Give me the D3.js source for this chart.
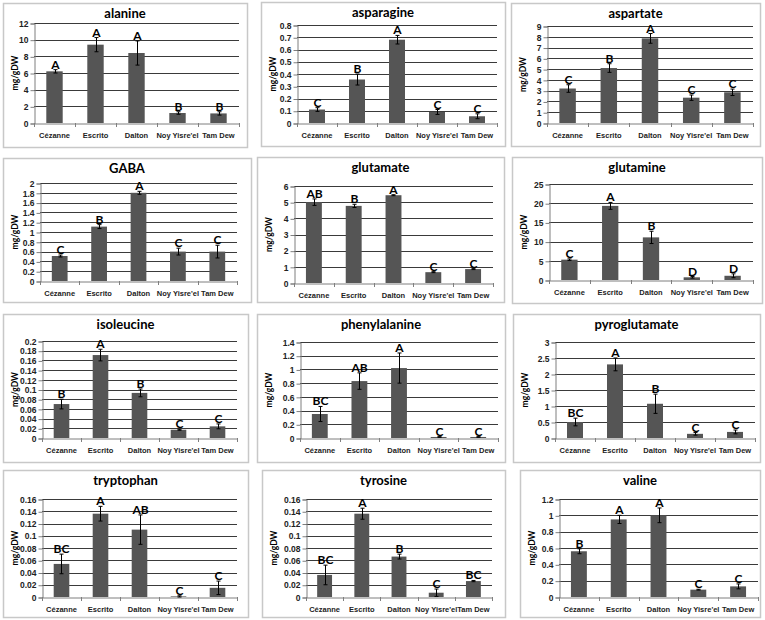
<!DOCTYPE html>
<html><head><meta charset="utf-8">
<script src="https://cdn.jsdelivr.net/npm/d3@7"></script>
<style>
body{margin:0;background:#fff;}
svg{display:block;font-family:Lato,"Open Sans",sans-serif;}
</style></head>
<body><svg id="c" width="765" height="620"></svg>
<script>
const categories = ["Cézanne","Escrito","Dalton","Noy Yisre'el","Tam Dew"];
const titles = ["alanine","asparagine","aspartate","GABA","glutamate","glutamine","isoleucine","phenylalanine","pyroglutamate","tryptophan","tyrosine","valine"];
const yMax = [12,0.8,9,2,6,25,0.2,1.4,3,0.16,0.16,1.2];
const yStep = [2,0.1,1,0.2,1,5,0.02,0.2,0.5,0.02,0.02,0.2];
const alanine = [6.2,9.4,8.4,1.2,1.15];
const alanineErr = [0.2,0.85,1.45,0.15,0.2];
const asparagine = [0.11,0.355,0.68,0.09,0.055];
const asparagineErr = [0.015,0.045,0.035,0.02,0.02];
const aspartate = [3.2,5.1,7.85,2.35,2.85];
const aspartateErr = [0.35,0.4,0.45,0.25,0.3];
const gaba = [0.51,1.11,1.8,0.6,0.6];
const gabaErr = [0.02,0.04,0.03,0.07,0.13];
const glutamate = [5.0,4.77,5.43,0.67,0.86];
const glutamateErr = [0.2,0.1,0.03,0.03,0.03];
const glutamine = [5.3,19.3,11.1,0.7,1.1];
const glutamineErr = [0.2,0.9,1.6,0.2,0.5];
const isoleucine = [0.07,0.171,0.093,0.017,0.024];
const isoleucineErr = [0.01,0.012,0.008,0.001,0.005];
const phenylalanine = [0.35,0.83,1.02,0.015,0.015];
const phenylalanineErr = [0.11,0.12,0.22,0.005,0.005];
const pyroglutamate = [0.5,2.3,1.07,0.13,0.19];
const pyroglutamateErr = [0.12,0.2,0.3,0.04,0.06];
const tryptophan = [0.054,0.136,0.11,0.001,0.015];
const tryptophanErr = [0.016,0.012,0.024,0.001,0.011];
const tyrosine = [0.036,0.136,0.066,0.007,0.026];
const tyrosineErr = [0.016,0.009,0.004,0.006,0.001];
const valine = [0.56,0.95,1.0,0.09,0.13];
const valineErr = [0.03,0.05,0.09,0.005,0.03];
const alaLetters = ["A","A","A","B","B"];
const asnLetters = ["C","B","A","C","C"];
const aspLetters = ["C","B","A","C","C"];
const gabaLetters = ["C","B","A","C","C"];
const gluLetters = ["AB","B","A","C","C"];
const glnLetters = ["C","A","B","D","D"];
const ileLetters = ["B","A","B","C","C"];
const pheLetters = ["BC","AB","A","C","C"];
const pyrLetters = ["BC","A","B","C","C"];
const trpLetters = ["BC","A","AB","C","C"];
const tyrLetters = ["BC","A","B","C","BC"];
const valLetters = ["B","A","A","C","C"];

const values = [alanine,asparagine,aspartate,gaba,glutamate,glutamine,isoleucine,phenylalanine,pyroglutamate,tryptophan,tyrosine,valine];
const errors = [alanineErr,asparagineErr,aspartateErr,gabaErr,glutamateErr,glutamineErr,isoleucineErr,phenylalanineErr,pyroglutamateErr,tryptophanErr,tyrosineErr,valineErr];
const letters = [alaLetters,asnLetters,aspLetters,gabaLetters,gluLetters,glnLetters,ileLetters,pheLetters,pyrLetters,trpLetters,tyrLetters,valLetters];

// layout: frame [x,y,w,h], plot [left,right,top,bottom]
const frames = [[3,3,244,144],[261,2,244,144],[511,3,249,143],
  [3,158,248,144],[257,157,247,145],[512,157,250,146],
  [3,314,245,148],[257,314,248,148],[513,314,247,148],
  [3,470,245,147],[262,470,243,147],[520,470,240,147]];
const plots = [[34,239,23,123],[297,497,25,123],[547,753,26,123],
  [40,237,183,281],[294,493,186,283],[549,753,184,280],
  [42,237,341,438],[300,498,342,438],[555,755,342,438],
  [42,237,499,597],[306,492,499,597],[559,758,499,597]];

const svg = d3.select("#c");
const barColor = "#555555";

titles.forEach((t,i)=>{
  const [fx,fy,fw,fh] = frames[i];
  const [pl,pr,pt,pb] = plots[i];
  const g = svg.append("g");
  g.append("rect").attr("x",fx+0.5).attr("y",fy+0.5).attr("width",fw).attr("height",fh)
    .attr("fill","#fff").attr("stroke","#c8c8c8").attr("stroke-width",1.5);
  const x = d3.scaleBand().domain(categories).range([pl,pr]).paddingInner(0.6).paddingOuter(0.3);
  const xb = d3.scaleBand().domain(categories).range([pl,pr]);
  const y = d3.scaleLinear().domain([0,yMax[i]]).range([pb,pt]);
  const ticks = d3.range(0, yMax[i]+yStep[i]/2, yStep[i]).map(v=>+v.toFixed(4));
  // gridlines
  g.selectAll(".grid").data(ticks.filter(v=>v>0)).join("line")
    .attr("x1",pl).attr("x2",pr).attr("y1",d=>Math.round(y(d))+0.5).attr("y2",d=>Math.round(y(d))+0.5)
    .attr("stroke","#3a3a3a").attr("stroke-width",1);
  // y axis
  const ya = d3.axisLeft(y).tickValues(ticks).tickSize(4).tickFormat(d=>d3.format("~g")(d));
  const yg = g.append("g").attr("transform",`translate(${pl+0.5},0.5)`).call(ya);
  yg.select(".domain").attr("stroke","#7f7f7f");
  yg.selectAll(".tick line").attr("stroke","#7f7f7f");
  yg.selectAll("text").attr("font-size",8.5).attr("font-weight","bold").attr("fill","#222").attr("x",-6);
  // x axis
  const xa = d3.axisBottom(xb).tickSize(0).tickFormat(d=>d);
  const xg = g.append("g").attr("transform",`translate(0,${pb+0.5})`).call(xa);
  xg.select(".domain").attr("stroke","#7f7f7f");
  xg.selectAll("text").attr("font-size",7.5).attr("font-weight","bold").attr("fill","#222").attr("dy","1.5em");
  const bounds = categories.map(c=>xb(c)).concat([pr]);
  g.selectAll(".xt").data(bounds).join("line")
    .attr("x1",d=>Math.round(d)+0.5).attr("x2",d=>Math.round(d)+0.5).attr("y1",pb).attr("y2",pb+4)
    .attr("stroke","#7f7f7f");
  // bars
  const vals = values[i], errs = errors[i], lets = letters[i];
  g.selectAll(".bar").data(categories).join("rect")
    .attr("x",c=>x(c)).attr("width",x.bandwidth())
    .attr("y",(c,j)=>y(vals[j])).attr("height",(c,j)=>pb-y(vals[j]))
    .attr("fill",barColor);
  // error bars
  categories.forEach((c,j)=>{
    const cx = Math.round(x(c)+x.bandwidth()/2)+0.5;
    const y1 = y(vals[j]+errs[j]), y0 = y(Math.max(0,vals[j]-errs[j]));
    g.append("line").attr("x1",cx).attr("x2",cx).attr("y1",y1).attr("y2",y0).attr("stroke","#000").attr("stroke-width",1);
    g.append("line").attr("x1",cx-2).attr("x2",cx+2).attr("y1",y1).attr("y2",y1).attr("stroke","#000").attr("stroke-width",1);
    g.append("line").attr("x1",cx-2).attr("x2",cx+2).attr("y1",y0).attr("y2",y0).attr("stroke","#000").attr("stroke-width",1);
    g.append("text").attr("x",cx).attr("y",y1-1).attr("text-anchor","middle")
      .attr("font-size",12).attr("font-weight","bold").attr("fill","#000").text(lets[j]);
  });
  // title
  g.append("text").attr("x",fx+fw/2).attr("y",fy+15).attr("text-anchor","middle")
    .attr("font-size",13).attr("font-weight","bold").attr("fill","#000").text(t);
  // y label
  g.append("text").attr("transform",`translate(${fx+15},${(pt+pb)/2}) rotate(-90)`)
    .attr("text-anchor","middle").attr("font-size",8.5).attr("font-weight","bold").attr("fill","#000").text("mg/gDW");
});
</script></body></html>
